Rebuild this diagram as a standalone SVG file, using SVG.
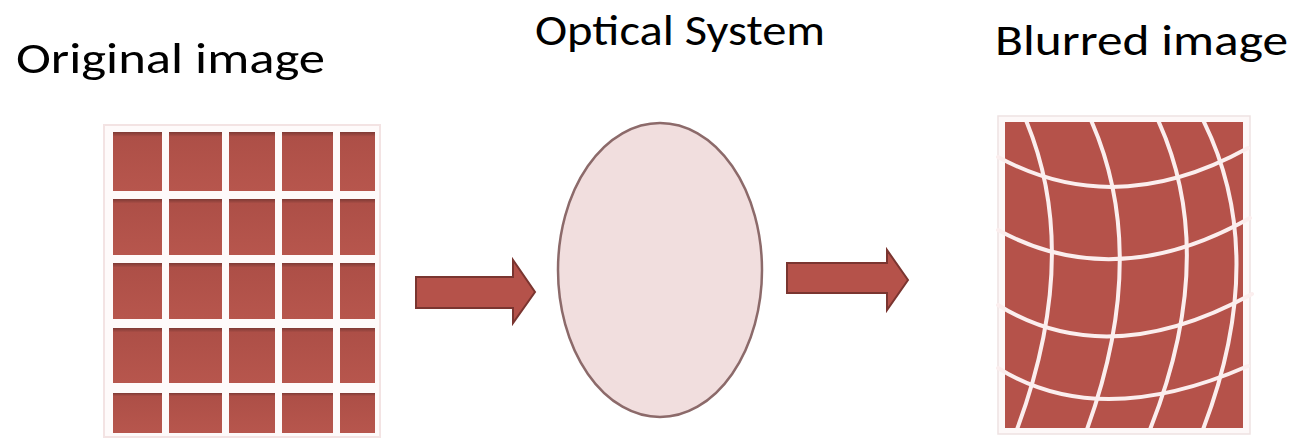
<svg xmlns="http://www.w3.org/2000/svg" width="1299" height="448" viewBox="0 0 1299 448">
<style>
  .lbl { font-family: Carlito, Calibri, Lato, "Open Sans", sans-serif; font-size: 44px; fill: #000; }
  .cell { fill: url(#cellGrad); }
  .warp { fill: none; stroke: #fbeeee; stroke-width: 4; stroke-linecap: round; }
  .arrow { fill: #b5524a; stroke: #7a3530; stroke-width: 2; stroke-linejoin: miter; }
</style>
<defs>
  <linearGradient id="cellGrad" x1="0" y1="0" x2="0" y2="1">
    <stop offset="0" stop-color="#7e3a35"/>
    <stop offset="0.08" stop-color="#ad4f47"/>
    <stop offset="1" stop-color="#b7564d"/>
  </linearGradient>
  <clipPath id="blurClip">
    <rect x="1005" y="122" width="238" height="306"/>
  </clipPath>
</defs>
<rect width="1299" height="448" fill="#ffffff"/>

<g id="original-image">
  <text class="lbl" x="16" y="73" textLength="309" lengthAdjust="spacingAndGlyphs">Original image</text>
  <rect x="104" y="125" width="276" height="312" fill="#fefafa" stroke="#f3e3e3" stroke-width="2"/>
  <g>
    <rect class="cell" x="113" y="132" width="49" height="59"/>
    <rect class="cell" x="169" y="132" width="53" height="59"/>
    <rect class="cell" x="229" y="132" width="46" height="59"/>
    <rect class="cell" x="282" y="132" width="51" height="59"/>
    <rect class="cell" x="340" y="132" width="35" height="59"/>
    <rect class="cell" x="113" y="199" width="49" height="56"/>
    <rect class="cell" x="169" y="199" width="53" height="56"/>
    <rect class="cell" x="229" y="199" width="46" height="56"/>
    <rect class="cell" x="282" y="199" width="51" height="56"/>
    <rect class="cell" x="340" y="199" width="35" height="56"/>
    <rect class="cell" x="113" y="263" width="49" height="56"/>
    <rect class="cell" x="169" y="263" width="53" height="56"/>
    <rect class="cell" x="229" y="263" width="46" height="56"/>
    <rect class="cell" x="282" y="263" width="51" height="56"/>
    <rect class="cell" x="340" y="263" width="35" height="56"/>
    <rect class="cell" x="113" y="328" width="49" height="55"/>
    <rect class="cell" x="169" y="328" width="53" height="55"/>
    <rect class="cell" x="229" y="328" width="46" height="55"/>
    <rect class="cell" x="282" y="328" width="51" height="55"/>
    <rect class="cell" x="340" y="328" width="35" height="55"/>
    <rect class="cell" x="113" y="393" width="49" height="40"/>
    <rect class="cell" x="169" y="393" width="53" height="40"/>
    <rect class="cell" x="229" y="393" width="46" height="40"/>
    <rect class="cell" x="282" y="393" width="51" height="40"/>
    <rect class="cell" x="340" y="393" width="35" height="40"/>
  </g>
</g>

<g id="optical-system">
  <text class="lbl" x="535" y="45" textLength="290" lengthAdjust="spacingAndGlyphs">Optical System</text>
  <ellipse cx="660" cy="270" rx="102" ry="147" fill="#f1dede" stroke="#8c6a6a" stroke-width="2.5"/>
</g>

<g id="blurred-image">
  <text class="lbl" x="995" y="55" textLength="293" lengthAdjust="spacingAndGlyphs">Blurred image</text>
  <rect x="998" y="116" width="252" height="318" fill="#fdf8f8" stroke="#eee2e2" stroke-width="1.5"/>
  <rect x="1005" y="122" width="238" height="306" fill="#b5524a"/>
  <g clip-path="url(#blurClip)">
    <path class="warp" d="M1025,118 Q1083,254 1016,432"/>
    <path class="warp" d="M1090,118 Q1151.5,254 1086,432"/>
    <path class="warp" d="M1157,118 Q1220.5,254 1149,432"/>
    <path class="warp" d="M1202,118 Q1271,254 1202,432"/>
  </g>
  <path class="warp" d="M998,157 Q1116,221 1248,148"/>
  <path class="warp" d="M998,230 Q1115,294 1250,218"/>
  <path class="warp" d="M998,305 Q1107.5,373 1252,294"/>
  <path class="warp" d="M998,368 Q1099,431 1248,366"/>
</g>

<g id="connectors">
  <polygon class="arrow" points="416,277 513,277 513,260 535,292 513,323 513,308 416,308"/>
  <polygon class="arrow" points="787,263 887,263 887,250 908,280 887,310 887,293 787,293"/>
</g>
</svg>
